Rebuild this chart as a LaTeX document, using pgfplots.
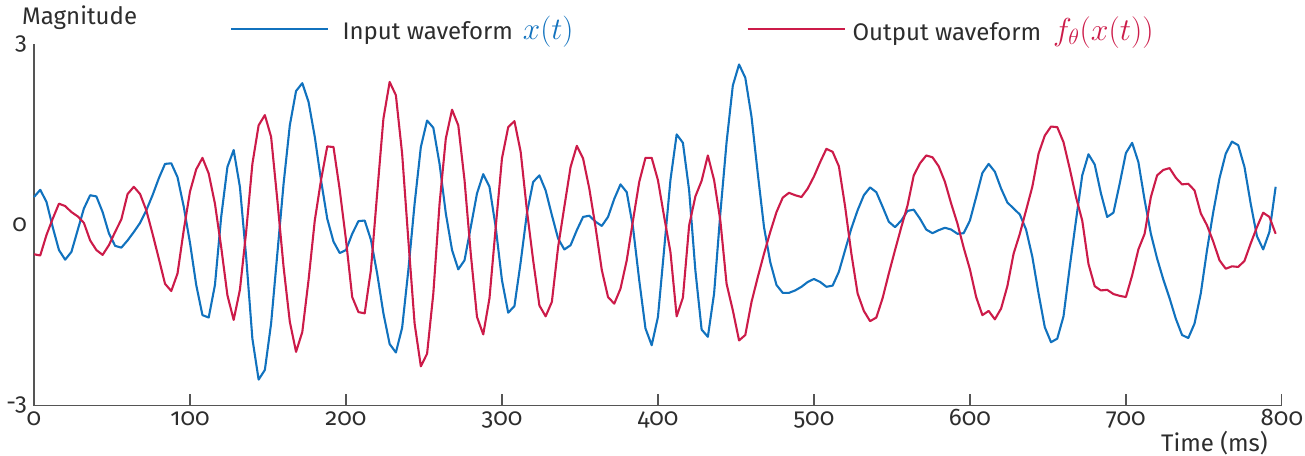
\documentclass[border=0pt]{standalone}
\usepackage{fontspec}
\setmainfont{Fira Sans}[Numbers=OldStyle]
\usepackage{graphicx}
\usepackage{pgfplots}
\usepackage{pgfplotstable}
\pgfplotsset{compat=1.18}
\definecolor{cblue}{RGB}{17,114,190}
\definecolor{cred}{RGB}{204,27,73}
\definecolor{tgray}{RGB}{45,45,45}
\definecolor{agray}{RGB}{85,85,85}

\pgfplotstableread{
t v
0 0.46
4 0.58
8 0.38
12 -0.04
16 -0.42
20 -0.58
24 -0.45
28 -0.09
32 0.27
36 0.49
40 0.47
44 0.21
48 -0.14
52 -0.35
56 -0.38
60 -0.26
64 -0.12
68 0.03
72 0.24
76 0.49
80 0.77
84 1.01
88 1.02
92 0.79
96 0.30
100 -0.30
104 -1.00
108 -1.50
112 -1.54
116 -1.00
120 0.13
124 0.96
128 1.24
132 0.63
136 -0.53
140 -1.89
144 -2.57
148 -2.41
152 -1.64
156 -0.48
160 0.68
164 1.65
168 2.22
172 2.35
176 2.04
180 1.46
184 0.74
188 0.10
192 -0.28
196 -0.47
200 -0.42
204 -0.15
208 0.06
212 0.07
216 -0.25
220 -0.81
224 -1.47
228 -1.98
232 -2.12
236 -1.71
240 -0.75
244 0.35
248 1.29
252 1.73
256 1.61
260 1.01
264 0.19
268 -0.42
272 -0.74
276 -0.59
280 -0.04
284 0.52
288 0.84
292 0.63
296 -0.04
300 -0.92
304 -1.46
308 -1.35
312 -0.62
316 0.19
320 0.71
324 0.82
328 0.57
332 0.16
336 -0.23
340 -0.41
344 -0.34
348 -0.09
352 0.13
356 0.15
360 0.05
364 -0.02
368 0.13
372 0.43
376 0.67
380 0.54
384 -0.04
388 -0.92
392 -1.72
396 -2.00
400 -1.53
404 -0.40
408 0.74
412 1.50
416 1.36
420 0.57
424 -0.76
428 -1.74
432 -1.86
436 -1.14
440 0.19
444 1.37
448 2.31
452 2.66
456 2.44
460 1.79
464 0.85
468 -0.04
472 -0.62
476 -1.00
480 -1.13
484 -1.13
488 -1.09
492 -1.03
496 -0.95
500 -0.90
504 -0.95
508 -1.03
512 -1.01
516 -0.78
520 -0.42
524 -0.06
528 0.24
532 0.49
536 0.62
540 0.54
544 0.30
548 0.05
552 -0.04
556 0.07
560 0.23
564 0.25
568 0.10
572 -0.08
576 -0.14
580 -0.09
584 -0.05
588 -0.08
592 -0.15
596 -0.14
600 0.07
604 0.46
608 0.86
612 1.01
616 0.88
620 0.60
624 0.37
628 0.27
632 0.17
636 -0.08
640 -0.53
644 -1.14
648 -1.70
652 -1.95
656 -1.89
660 -1.52
664 -0.70
668 0.07
672 0.82
676 1.17
680 1.00
684 0.52
688 0.13
692 0.20
696 0.68
700 1.19
704 1.36
708 1.04
712 0.41
716 -0.15
720 -0.56
724 -0.91
728 -1.22
732 -1.56
736 -1.83
740 -1.88
744 -1.64
748 -1.14
752 -0.42
756 0.21
760 0.77
764 1.18
768 1.38
772 1.32
776 0.96
780 0.35
784 -0.19
788 -0.41
792 -0.12
796 0.63
}\inputwave

\pgfplotstableread{
t v
0 -0.49
4 -0.51
8 -0.17
12 0.10
16 0.35
20 0.31
24 0.21
28 0.14
32 0.03
36 -0.26
40 -0.42
44 -0.50
48 -0.34
52 -0.12
56 0.09
60 0.51
64 0.63
68 0.51
72 0.24
76 -0.15
80 -0.56
84 -0.98
88 -1.10
92 -0.81
96 -0.09
100 0.55
104 0.92
108 1.11
112 0.85
116 0.35
120 -0.37
124 -1.17
128 -1.58
132 -1.08
136 -0.12
140 1.01
144 1.65
148 1.82
152 1.46
156 0.41
160 -0.70
164 -1.61
168 -2.11
172 -1.78
176 -0.92
180 0.07
184 0.74
188 1.30
192 1.29
196 0.58
200 -0.25
204 -1.20
208 -1.45
212 -1.47
216 -0.75
220 0.52
224 1.76
228 2.37
232 2.15
236 1.18
240 -0.26
244 -1.64
248 -2.35
252 -2.14
256 -1.14
260 0.35
264 1.43
268 1.91
272 1.65
276 0.74
280 -0.48
284 -1.53
288 -1.82
292 -1.22
296 -0.04
300 1.10
304 1.62
308 1.72
312 1.21
316 0.24
320 -0.59
324 -1.34
328 -1.52
332 -1.28
336 -0.37
340 0.30
344 0.96
348 1.31
352 1.10
356 0.60
360 -0.04
364 -0.75
368 -1.20
372 -1.31
376 -1.06
380 -0.59
384 0.07
388 0.71
392 1.11
396 1.11
400 0.74
404 0.13
408 -0.45
412 -1.52
416 -1.21
420 -0.01
424 0.47
428 0.73
432 1.15
436 0.74
440 0.07
444 -0.98
448 -1.42
452 -1.92
456 -1.83
460 -1.28
464 -0.87
468 -0.48
472 -0.12
476 0.21
480 0.45
484 0.53
488 0.49
492 0.46
496 0.60
500 0.80
504 1.04
508 1.26
512 1.21
516 0.97
520 0.30
524 -0.48
528 -1.14
532 -1.43
536 -1.60
540 -1.54
544 -1.22
548 -0.81
552 -0.42
556 -0.04
560 0.32
564 0.82
568 1.02
572 1.15
576 1.12
580 0.97
584 0.71
588 0.35
592 0.02
596 -0.38
600 -0.74
604 -1.20
608 -1.50
612 -1.43
616 -1.57
620 -1.39
624 -1.02
628 -0.48
632 -0.15
636 0.24
640 0.63
644 1.18
648 1.48
652 1.63
656 1.62
660 1.37
664 0.93
668 0.46
672 0.07
676 -0.65
680 -1.02
684 -1.09
688 -1.08
692 -1.15
696 -1.18
700 -1.20
704 -0.84
708 -0.41
712 -0.15
716 0.46
720 0.82
724 0.91
728 0.94
732 0.78
736 0.67
740 0.68
744 0.57
748 0.19
752 -0.01
756 -0.28
760 -0.59
764 -0.73
768 -0.69
772 -0.70
776 -0.60
780 -0.31
784 -0.04
788 0.20
792 0.13
796 -0.15
}\outputwave

\begin{document}
\begin{tikzpicture}[font=\fontsize{24bp}{29bp}\selectfont]
\useasboundingbox (-34bp,-50.5bp) rectangle (1271bp,405.5bp);
\begin{axis}[
  at={(0,0)}, anchor=south west,
  scale only axis,
  width=1248bp, height=361.5bp,
  xmin=0, xmax=800, ymin=-3, ymax=3,
  axis x line=bottom, axis y line=left,
  axis line style={-, draw=agray, line width=1.2bp},
  xtick={0,100,...,800},
  xticklabels={0,100,200,300,400,500,600,700,800},
  ytick={-3,0,3},
  yticklabels={-3,0,3},
  tick align=inside,
  major tick length=12bp,
  xtick style={draw=agray, line width=1.2bp},
  ytick style={draw=none},
  xticklabel style={anchor=base, yshift=-19.5bp, text=tgray, inner sep=0pt},
  yticklabel style={anchor=east, xshift=-7bp, text=tgray, inner sep=0pt},
  xlabel={Time (ms)},
  xlabel style={at={(axis description cs:1,0)}, anchor=base east, xshift=-14bp, yshift=-45.5bp, text=tgray, inner sep=0pt},
  ylabel={Magnitude},
  ylabel style={rotate=-90, at={(axis description cs:0,1)}, anchor=base west, xshift=-12bp, yshift=19.5bp, text=tgray, inner sep=0pt},
  legend columns=2,
  legend cell align=left,
  legend image code/.code={\draw[#1] (0bp,0bp) -- (97bp,0bp);},
  legend style={at={(axis description cs:0.1574,1.0415)}, anchor=west, draw=none, fill=none,
    inner sep=0pt, outer sep=0pt, /tikz/column sep=0pt,
    nodes={inner sep=0pt, text=tgray},
    font=\fontsize{24bp}{29bp}\selectfont},
  clip=false,
]
\addplot[cblue, line width=2.1pt, line join=round] table[x=t, y=v] {\inputwave};
\addlegendentry{\makebox[417bp][l]{\hspace{13bp}Input waveform\hspace{10bp}\textcolor{cblue}{\scalebox{1.26}{$x(t)$}}}}
\addplot[cred, line width=2.1pt, line join=round] table[x=t, y=v] {\outputwave};
\addlegendentry{\hspace{7bp}Output waveform\hspace{12bp}\textcolor{cred}{\scalebox{1.28}{$f_\theta(x(t))$}}}
\end{axis}
\end{tikzpicture}
\end{document}
